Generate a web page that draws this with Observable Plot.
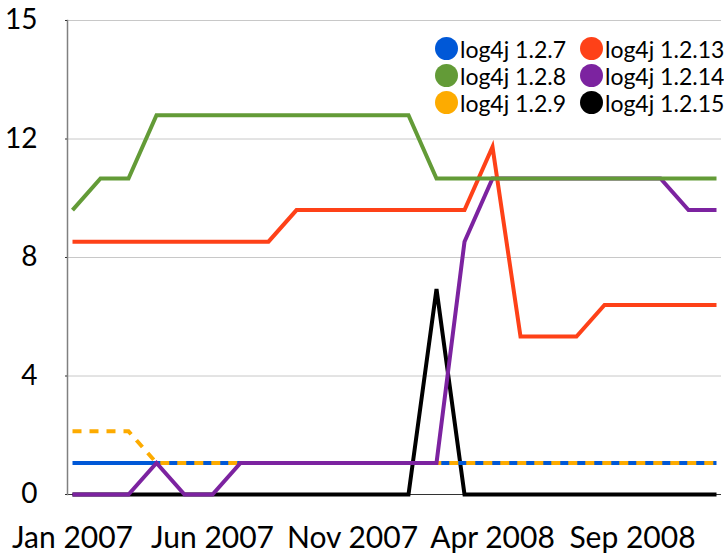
<!DOCTYPE html>
<html>
<head>
<meta charset="utf-8">
<script src="https://cdn.jsdelivr.net/npm/d3@7"></script>
<script src="https://cdn.jsdelivr.net/npm/@observablehq/plot@0.6"></script>
<style>
  html, body { margin: 0; padding: 0; background: #fff; }
  #wrap { position: relative; width: 724px; height: 557px; }
  #legend { position: absolute; left: 435px; top: 35px; display: grid;
    grid-template-columns: 145px auto; grid-auto-flow: column; grid-template-rows: 27px 27px 27px;
    font-family: Lato, 'Open Sans', sans-serif; font-size: 23px; color: #000; }
  .item { display: flex; align-items: center; height: 27px; white-space: nowrap; }
  .sw { width: 23px; height: 23px; border-radius: 50%; margin-right: 2px; flex: none; }
</style>
</head>
<body>
<div id="wrap"><div id="legend"></div></div>
<script>
const months = ["2007-01","2007-02","2007-03","2007-04","2007-05","2007-06","2007-07","2007-08","2007-09","2007-10","2007-11","2007-12",
                "2008-01","2008-02","2008-03","2008-04","2008-05","2008-06","2008-07","2008-08","2008-09","2008-10","2008-11","2008-12"];
const xTicks = ["2007-01","2007-06","2007-11","2008-04","2008-09"];
const xTickLabels = ["Jan 2007","Jun 2007","Nov 2007","Apr 2008","Sep 2008"];
const yTicks = [0, 3.75, 7.5, 11.25, 15];
const yTickLabels = ["0","4","8","12","15"];

const seriesNames = ["log4j 1.2.7","log4j 1.2.8","log4j 1.2.9","log4j 1.2.13","log4j 1.2.14","log4j 1.2.15"];
const seriesColors = ["#0058d7","#639b37","#fdab00","#fe4118","#7c23a0","#000000"];

const v127 = [1,1,1,1,1,1,1,1,1,1,1,1,1,1,1,1,1,1,1,1,1,1,1,1];
const v128 = [9,10,10,12,12,12,12,12,12,12,12,12,12,10,10,10,10,10,10,10,10,10,10,10];
const v129 = [2,2,2,1,1,1,1,1,1,1,1,1,1,1,1,1,1,1,1,1,1,1,1,1];
const v1213 = [8,8,8,8,8,8,8,8,9,9,9,9,9,9,9,11,5,5,5,6,6,6,6,6];
const v1214 = [0,0,0,1,0,0,1,1,1,1,1,1,1,1,8,10,10,10,10,10,10,10,9,9];
const v1215 = [0,0,0,0,0,0,0,0,0,0,0,0,0,6.5,0,0,0,0,0,0,0,0,0,0];

const seriesValues = [v127, v128, v129, v1213, v1214, v1215];
// drawing order bottom -> top
const drawOrder = [5, 0, 2, 4, 3, 1];

const font = "Lato, 'Open Sans', sans-serif";

const lineMarks = drawOrder.map(k => Plot.line(months, {
  x: d => d,
  y: (d, i) => seriesValues[k][i],
  stroke: seriesColors[k],
  strokeWidth: 4,
  strokeLinejoin: "miter",
  strokeLinecap: "butt",
  strokeMiterlimit: 4,
  strokeDasharray: k === 2 ? "9,8" : null
}));

const chart = Plot.plot({
  width: 724,
  height: 557,
  marginLeft: 67,
  marginRight: 3,
  marginTop: 20,
  marginBottom: 63,
  style: { fontFamily: font, background: "#fff", color: "#000" },
  x: { type: "point", domain: months, padding: 0 },
  y: { domain: [0, 15] },
  marks: [
    Plot.gridY(yTicks, { stroke: "#c8c8c8", strokeOpacity: 1, strokeWidth: 1 }),
    Plot.ruleY([0], { stroke: "#333", strokeWidth: 1 }),
    Plot.frame({ anchor: "left", stroke: "#808080", strokeWidth: 1.5 }),
    Plot.axisY(yTicks, {
      tickSize: 2, tickPadding: 28, stroke: "#333", fontSize: 28,
      tickFormat: (d, i) => yTickLabels[yTicks.indexOf(d)]
    }),
    Plot.axisX(xTicks, {
      tickSize: 0, tickPadding: 32, fontSize: 30,
      tickFormat: d => xTickLabels[xTicks.indexOf(d)]
    }),
    ...lineMarks
  ]
});

document.getElementById("wrap").prepend(chart);

const legend = document.getElementById("legend");
seriesNames.forEach((name, k) => {
  const item = document.createElement("div");
  item.className = "item";
  const sw = document.createElement("span");
  sw.className = "sw";
  sw.style.background = seriesColors[k];
  const t = document.createElement("span");
  t.textContent = name;
  item.appendChild(sw);
  item.appendChild(t);
  legend.appendChild(item);
});
</script>
</body>
</html>
